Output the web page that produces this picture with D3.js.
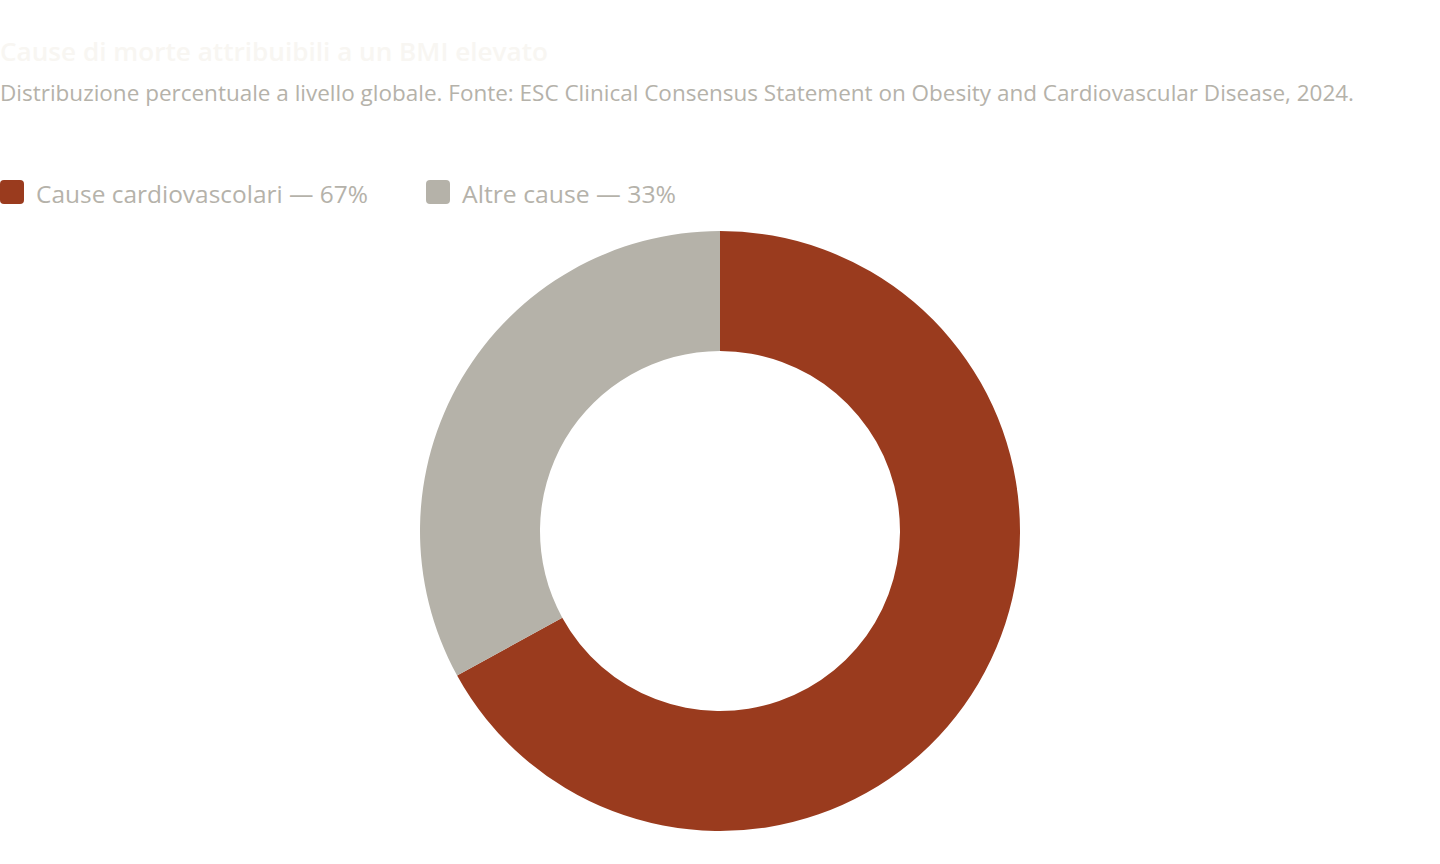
<!DOCTYPE html>
<html>
<head>
<meta charset="utf-8">
<script src="https://cdn.jsdelivr.net/npm/d3@7"></script>
<style>
  html, body { margin: 0; padding: 0; background: #fff; }
  body { width: 1440px; height: 864px; overflow: hidden; font-family: "Open Sans", "Noto Sans", sans-serif; }
</style>
</head>
<body>
<div id="chart"></div>
<script>
const categories = ["Cause cardiovascolari", "Altre cause"];
const values = [67, 33];
const colors = ["#9a3b1e", "#b5b2a9"];

const titleText = "Cause di morte attribuibili a un BMI elevato";
const subtitleText = "Distribuzione percentuale a livello globale. Fonte: ESC Clinical Consensus Statement on Obesity and Cardiovascular Disease, 2024.";

const width = 1440, height = 864;

const svg = d3.select("#chart")
	.append("svg")
		.attr("width", width)
		.attr("height", height);

// title + subtitle
svg.append("text")
	.attr("x", 0)
	.attr("y", 61)
	.attr("font-size", 26)
	.attr("font-weight", 600)
	.attr("fill", "#f8f6f2")
	.attr("textLength", 548)
	.attr("lengthAdjust", "spacingAndGlyphs")
	.text(titleText);

svg.append("text")
	.attr("x", 0)
	.attr("y", 101)
	.attr("font-size", 21.5)
	.attr("fill", "#b5b2aa")
	.attr("textLength", 1354)
	.attr("lengthAdjust", "spacingAndGlyphs")
	.text(subtitleText);

// legend
const legendX = [0, 426];
const legendLen = [332, 214];
const legend = svg.append("g")
	.selectAll("g")
	.data(categories)
	.join("g")
		.attr("transform", (d, i) => `translate(${legendX[i]}, 180)`);

legend.append("rect")
	.attr("width", 24)
	.attr("height", 24)
	.attr("rx", 4)
	.attr("fill", (d, i) => colors[i]);

legend.append("text")
	.attr("x", 36)
	.attr("y", 23)
	.attr("font-size", 24)
	.attr("fill", "#b5b2aa")
	.attr("textLength", (d, i) => legendLen[i])
	.attr("lengthAdjust", "spacingAndGlyphs")
	.text((d, i) => `${d} — ${values[i]}%`);

// donut
const cx = 720, cy = 531;
const outerR = 300, innerR = 180;

const pie = d3.pie()
	.sort(null)
	.value(d => d);

const arc = d3.arc()
	.innerRadius(innerR)
	.outerRadius(outerR);

svg.append("g")
	.attr("transform", `translate(${cx},${cy})`)
	.selectAll("path")
	.data(pie(values))
	.join("path")
		.attr("d", arc)
		.attr("fill", (d, i) => colors[i]);
</script>
</body>
</html>
